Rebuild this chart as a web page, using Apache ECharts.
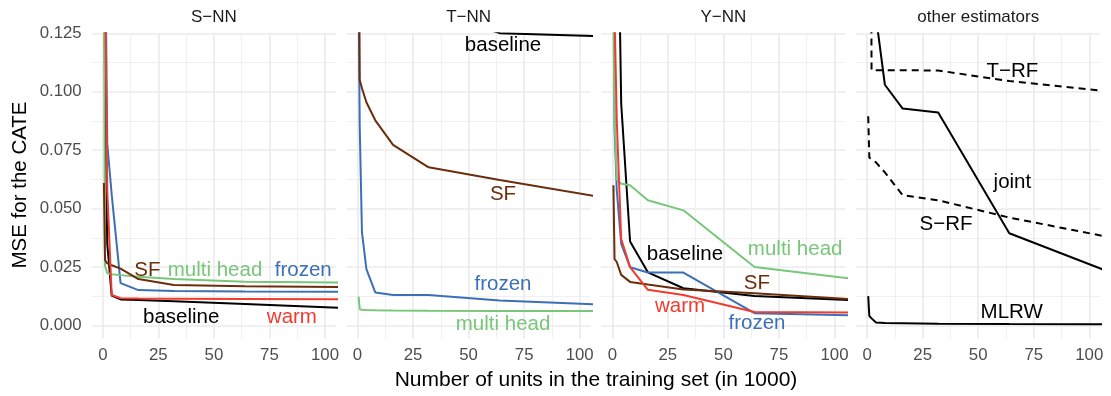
<!DOCTYPE html>
<html>
<head>
<meta charset="utf-8">
<script src="https://cdn.jsdelivr.net/npm/echarts@6/dist/echarts.min.js"></script>
<style>
  html, body { margin: 0; padding: 0; background: #fff; }
  #chart { width: 1111px; height: 396px; }
</style>
</head>
<body>
<div id="chart"></div>
<script>
// training set sizes (in 1000 units)
const sizes = [0.5, 1, 2, 4, 8, 16, 32, 64, 128]
const facets = ['S\u2212NN', 'T\u2212NN', 'Y\u2212NN', 'other estimators']

// S-NN
const snnBaseline = [0.2, 0.1, 0.035, 0.0128, 0.0112, 0.0110, 0.0104, 0.0092, 0.0068]
const snnFrozen = [0.3, 0.172, 0.078, 0.056, 0.0182, 0.0152, 0.0148, 0.0146, 0.0144]
const snnMulti = [0.15, 0.0255, 0.0224, 0.0220, 0.0216, 0.0209, 0.0199, 0.0188, 0.0182]
const snnSF = [0.0610, 0.0281, 0.0266, 0.0258, 0.0244, 0.0199, 0.0174, 0.0168, 0.0164]
const snnWarm = [0.3, 0.145, 0.058, 0.0131, 0.0117, 0.0116, 0.0115, 0.0114, 0.0112]

// T-NN
const tnnBaseline = [0.6, 0.5, 0.4, 0.3, 0.22, 0.17, 0.135, 0.12507, 0.1232]
const tnnFrozen = [0.14, 0.085, 0.040, 0.0242, 0.0142, 0.0131, 0.0131, 0.0108, 0.0082]
const tnnMulti = [0.0124, 0.0070, 0.0068, 0.0067, 0.0066, 0.0065, 0.0064, 0.0063, 0.0062]
const tnnSF = [0.2, 0.105, 0.1015, 0.0955, 0.0878, 0.0773, 0.0677, 0.0623, 0.0520]

// Y-NN
const ynnBaseline = [0.5, 0.35, 0.215, 0.095, 0.036, 0.0228, 0.0160, 0.0127, 0.0100]
const ynnFrozen = [0.2, 0.085, 0.058, 0.035, 0.0250, 0.0227, 0.0227, 0.0053, 0.0040]
const ynnMulti = [0.13, 0.09, 0.0625, 0.0607, 0.0600, 0.0536, 0.0493, 0.0251, 0.0178]
const ynnSF = [0.0600, 0.0285, 0.0272, 0.0217, 0.0187, 0.0176, 0.0155, 0.0138, 0.0102]
const ynnWarm = [0.25, 0.134, 0.088, 0.037, 0.0250, 0.0153, 0.0131, 0.0058, 0.0056]

// other estimators
const joint = [0.5, 0.35, 0.2, 0.132, 0.1030, 0.0928, 0.0911, 0.0395, 0.0160]
const tRF = [0.6, 0.4, 0.1092, 0.1092, 0.1092, 0.1092, 0.1091, 0.1046, 0.0983]
const sRF = [0.0895, 0.0718, 0.0712, 0.0698, 0.0655, 0.0558, 0.0536, 0.0462, 0.0343]
const mlrw = [0.0126, 0.0041, 0.0031, 0.0013, 0.0011, 0.0010, 0.0008, 0.0007, 0.0006]

// text labels inside the panels: [text, x, y]
const snnLabels = [['SF', 20.1, 0.0241], ['multi head', 50.5, 0.0241], ['frozen', 90.2, 0.0241],
  ['baseline', 35.3, 0.0042], ['warm', 85.1, 0.0042]]
const tnnLabels = [['baseline', 65.5, 0.1207], ['SF', 65.5, 0.0569], ['frozen', 65.5, 0.0185],
  ['multi head', 65.5, 0.0014]]
const ynnLabels = [['baseline', 32.7, 0.0312], ['multi head', 82.3, 0.0331], ['SF', 65.1, 0.0188],
  ['warm', 30.5, 0.0091], ['frozen', 65.1, 0.0015]]
const otherLabels = [['T\u2212RF', 65.4, 0.1093], ['joint', 65.4, 0.0619], ['S\u2212RF', 35.5, 0.0438],
  ['MLRW', 65.1, 0.0064]]

const xMajor = [0, 25, 50, 75, 100]
const xMinor = [12.5, 37.5, 62.5, 87.5]
const yMajor = [0, 0.025, 0.05, 0.075, 0.1, 0.125]
const yMinor = [0.0125, 0.0375, 0.0625, 0.0875, 0.1125]

const colors = {
  baseline: '#000000',
  warm: '#F03B2F',
  frozen: '#3B6FB6',
  'multi head': '#78C679',
  SF: '#6B2D0C'
}
const font = "'Liberation Sans', Arial, Helvetica, sans-serif"

const panels = [
  { lines: [['baseline', snnBaseline], ['frozen', snnFrozen], ['multi head', snnMulti], ['SF', snnSF], ['warm', snnWarm]], labels: snnLabels },
  { lines: [['baseline', tnnBaseline], ['frozen', tnnFrozen], ['multi head', tnnMulti], ['SF', tnnSF]], labels: tnnLabels },
  { lines: [['baseline', ynnBaseline], ['frozen', ynnFrozen], ['multi head', ynnMulti], ['SF', ynnSF], ['warm', ynnWarm]], labels: ynnLabels },
  { lines: [['joint', joint], ['T-RF', tRF, true], ['S-RF', sRF, true], ['MLRW', mlrw]], labels: otherLabels }
]

const lefts = [91.7, 346.4, 601.2, 856.0]
const gridTop = 33.3
const pw = 244.4
const ph = 305.2

const grid = []
const xAxis = []
const yAxis = []
const series = []
const graphic = []

lefts.forEach((left, p) => {
  grid.push({ left, top: gridTop, width: pw, height: ph })
  xAxis.push({
    type: 'value', gridIndex: p, min: -5, max: 105, position: 'bottom',
    axisLine: { show: false },
    axisTick: { show: false, customValues: xMajor },
    axisLabel: { customValues: xMajor, fontSize: 16.8, color: '#4D4D4D', margin: 8, fontFamily: font },
    splitLine: { show: true, lineStyle: { color: '#EBEBEB', width: 1.7 } }
  })
  xAxis.push({
    type: 'value', gridIndex: p, min: -5, max: 105, position: 'top',
    axisLine: { show: false },
    axisTick: { show: false, customValues: xMinor },
    axisLabel: { show: false, customValues: xMinor },
    splitLine: { show: true, lineStyle: { color: '#EEEEEE', width: 0.9 } }
  })
  yAxis.push({
    type: 'value', gridIndex: p, min: -0.0055, max: 0.125, position: 'left',
    axisLine: { show: false },
    axisTick: { show: false, customValues: yMajor },
    axisLabel: {
      show: p === 0, customValues: yMajor, fontSize: 16.8, color: '#4D4D4D', margin: 10, fontFamily: font,
      formatter: v => v.toFixed(3)
    },
    splitLine: { show: true, lineStyle: { color: '#EBEBEB', width: 1.7 } }
  })
  yAxis.push({
    type: 'value', gridIndex: p, min: -0.0055, max: 0.125, position: 'right',
    axisLine: { show: false },
    axisTick: { show: false, customValues: yMinor },
    axisLabel: { show: false, customValues: yMinor },
    splitLine: { show: true, lineStyle: { color: '#EEEEEE', width: 0.9 } }
  })

  panels[p].lines.forEach(([name, vals, dashed]) => {
    const c = colors[name] || '#000000'
    series.push({
      type: 'line', name, xAxisIndex: 2 * p, yAxisIndex: 2 * p,
      data: sizes.map((s, i) => [s, vals[i]]),
      showSymbol: false, symbol: 'none', clip: true, silent: true,
      lineStyle: { color: c, width: 2, type: dashed ? [7, 5] : 'solid' },
      itemStyle: { color: c },
      z: 3
    })
  })

  series.push({
    type: 'scatter', xAxisIndex: 2 * p, yAxisIndex: 2 * p, silent: true,
    symbolSize: 1, itemStyle: { color: 'rgba(0,0,0,0)', opacity: 1 }, z: 5,
    data: panels[p].labels.map(([text, x, y]) => ({
      value: [x, y],
      label: {
        show: true, position: 'inside', formatter: text, offset: [0, 1.5],
        color: colors[text] || '#000000', opacity: 1, fontSize: 20.5, fontFamily: font,
        align: 'center', verticalAlign: 'middle'
      }
    }))
  })

  graphic.push({
    type: 'text', x: left + pw / 2, y: 17,
    style: { text: facets[p], fill: '#1A1A1A', font: '17px ' + font, textAlign: 'center', textVerticalAlign: 'middle', align: 'center', verticalAlign: 'middle' }
  })
})

graphic.push({
  type: 'text', x: 596, y: 380,
  style: { text: 'Number of units in the training set (in 1000)', fill: '#000', font: '21px ' + font, textAlign: 'center', textVerticalAlign: 'middle', align: 'center', verticalAlign: 'middle' }
})
graphic.push({
  type: 'text', x: 20.5, y: 185, rotation: Math.PI / 2,
  style: { text: 'MSE for the CATE', fill: '#000', font: '20.5px ' + font, textAlign: 'center', textVerticalAlign: 'middle', align: 'center', verticalAlign: 'middle' }
})

const chart = echarts.init(document.getElementById('chart'), null, { renderer: 'canvas' })
chart.setOption({
  animation: false,
  backgroundColor: '#ffffff',
  grid, xAxis, yAxis, series, graphic
})
</script>
</body>
</html>
